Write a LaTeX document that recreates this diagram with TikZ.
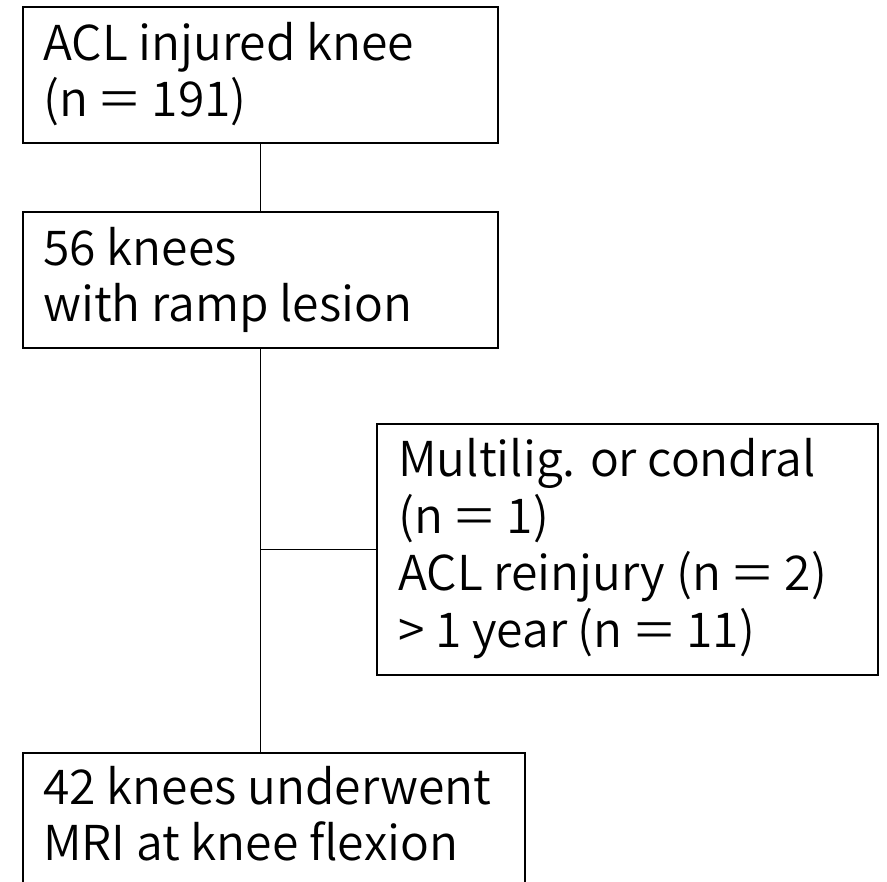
\documentclass[tikz,border=0pt]{standalone}
\usepackage{fontspec}
\setmainfont{Noto Sans CJK JP DemiLight}
\newcommand{\eqsign}{\hspace{2pt}\scalebox{1.45}[1]{=}\hspace{2pt}}
\begin{document}
\begin{tikzpicture}[x=1pt,y=-1pt,
  box/.style={draw=black,line width=1.6pt,rectangle,inner sep=0pt,anchor=north west},
  link/.style={draw=black,line width=1pt},
  txt/.style={anchor=base west,inner sep=0pt,font=\fontsize{48pt}{56pt}\selectfont}]
\clip (0,0) rectangle (887,882);
\fill[white] (0,0) rectangle (887,882);
\node[box,minimum width=475pt,minimum height=136pt] (b1) at (22,6) {};
\node[box,minimum width=475pt,minimum height=136pt] (b2) at (22,211) {};
\node[box,minimum width=501pt,minimum height=251pt] (b3) at (376,423) {};
\node[box,minimum width=502pt,minimum height=170pt] (b4) at (22,752) {};
\node[txt] (t1) at (43,61) {\parbox[t]{460pt}{\raggedright ACL injured knee\\(n \eqsign{} 191)}};
\node[txt] (t2) at (43,266) {\parbox[t]{460pt}{\raggedright 56 knees\\with ramp lesion}};
\node[txt] (t3) at (398,477) {\parbox[t]{470pt}{\raggedright\baselineskip=57pt Multilig. or condral\\(n \eqsign{} 1)\\ACL reinjury (n \eqsign{} 2)\\> 1 year (n \eqsign{} 11)}};
\node[txt] (t4) at (43,804) {\parbox[t]{480pt}{\raggedright 42 knees underwent\\MRI at knee flexion}};
\draw[link] (b1.south) -- (b2.north);
\draw[link] (b2.south) -- (b2.south |- b4.north);
\draw[link] (b2.south |- b3.west) -- (b3.west);
\end{tikzpicture}
\end{document}
